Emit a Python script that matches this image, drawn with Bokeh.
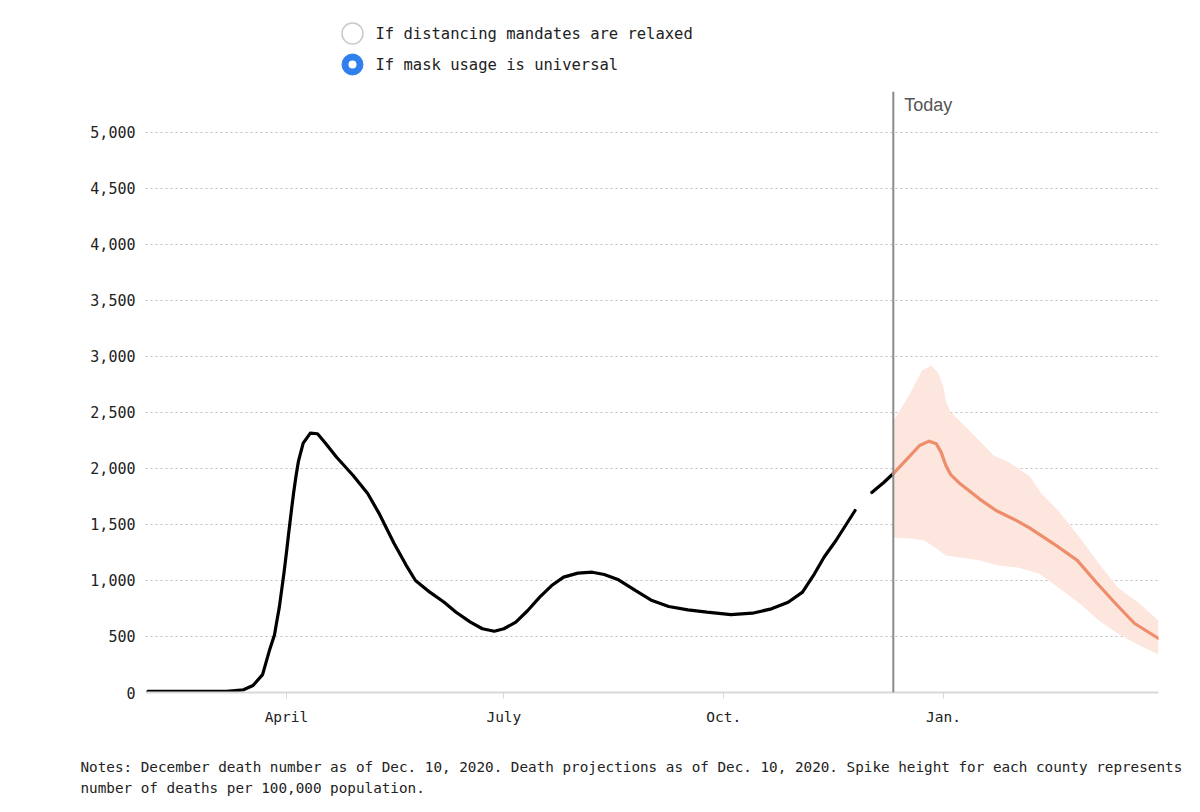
import numpy as np
import pandas as pd
from bokeh.plotting import figure
from bokeh.layouts import column, row
from bokeh.models import (Range1d, FixedTicker, NumeralTickFormatter, Span, Label)
from bokeh.core.properties import value
from bokeh.embed import file_html
from bokeh.resources import INLINE

# ---------------- data ----------------
hist_dates = ["2020-02-03", "2020-02-25", "2020-03-07", "2020-03-14", "2020-03-18",
              "2020-03-22", "2020-03-25", "2020-03-27", "2020-03-28", "2020-03-29",
              "2020-03-30", "2020-03-31", "2020-04-01", "2020-04-02", "2020-04-03",
              "2020-04-04", "2020-04-05", "2020-04-06", "2020-04-08", "2020-04-11",
              "2020-04-14", "2020-04-17", "2020-04-22", "2020-04-29", "2020-05-05",
              "2020-05-10", "2020-05-16", "2020-05-21", "2020-05-25", "2020-05-31",
              "2020-06-06", "2020-06-11", "2020-06-17", "2020-06-22", "2020-06-27",
              "2020-07-01", "2020-07-06", "2020-07-11", "2020-07-16", "2020-07-21",
              "2020-07-26", "2020-08-01", "2020-08-07", "2020-08-12", "2020-08-18",
              "2020-08-25", "2020-09-01", "2020-09-08", "2020-09-16", "2020-09-24",
              "2020-10-04", "2020-10-13", "2020-10-21", "2020-10-28", "2020-11-03",
              "2020-11-08", "2020-11-12", "2020-11-17", "2020-11-25", "2020-11-28",
              "2020-12-02", "2020-12-07", "2020-12-11"]
hist_deaths = [10, 10, 10, 24, 62,
               160, 385, 515, 640, 760,
               916, 1073, 1250, 1435, 1613,
               1783, 1933, 2063, 2226, 2316,
               2310, 2235, 2100, 1935, 1777,
               1590, 1333, 1140, 1000, 896,
               806, 717, 628, 569, 547,
               569, 628, 732, 851, 955,
               1030, 1066, 1074, 1054, 1006,
               911, 821, 768, 738, 717,
               696, 708, 747, 806, 896,
               1060, 1208, 1357, 1625, np.nan,
               1786, 1875, 1955]

proj_dates = ["2020-12-11", "2020-12-17", "2020-12-22", "2020-12-26", "2020-12-29",
              "2020-12-31", "2021-01-02", "2021-01-04", "2021-01-08", "2021-01-16",
              "2021-01-23", "2021-02-01", "2021-02-06", "2021-02-16", "2021-02-26",
              "2021-03-06", "2021-03-14", "2021-03-22", "2021-04-01"]
proj_deaths = [1955, 2090, 2205, 2244, 2220,
               2146, 2027, 1946, 1863, 1729,
               1625, 1530, 1470, 1330, 1180,
               982, 795, 616, 482]

upper_dates = ["2020-12-11", "2020-12-18", "2020-12-23", "2020-12-27", "2020-12-30",
               "2021-01-01", "2021-01-02", "2021-01-04", "2021-01-11", "2021-01-22",
               "2021-01-29", "2021-02-06", "2021-02-11", "2021-02-18", "2021-02-27",
               "2021-03-07", "2021-03-15", "2021-03-24", "2021-04-01"]
upper_deaths = [2420, 2670, 2875, 2920, 2846,
                2726, 2600, 2503, 2357, 2116,
                2050, 1930, 1777, 1625, 1384,
                1152, 937, 795, 643]

lower_dates = ["2020-12-11", "2020-12-18", "2020-12-24", "2020-12-29", "2021-01-02",
               "2021-01-16", "2021-01-24", "2021-02-01", "2021-02-10", "2021-02-18",
               "2021-02-27", "2021-03-07", "2021-03-15", "2021-03-24", "2021-04-01"]
lower_deaths = [1384, 1375, 1357, 1286, 1223,
                1180, 1134, 1116, 1062, 937,
                795, 643, 527, 420, 340]

today_date = "2020-12-11"
tick_dates = ["2020-04-01", "2020-07-01", "2020-10-01", "2021-01-01"]
tick_labels = ["April", "July", "Oct.", "Jan."]
y_ticks = [0, 500, 1000, 1500, 2000, 2500, 3000, 3500, 4000, 4500, 5000]

legend_labels = ["If distancing mandates are relaxed", "If mask usage is universal"]
notes_lines = ["Notes: December death number as of Dec. 10, 2020. Death projections as of Dec. 10, 2020. Spike height for each county represents",
               "number of deaths per 100,000 population."]

# ---------------- styling ----------------
W = 1184
FL, FR = 145, 1158          # frame left / right (page px)
MONO = "DejaVu Sans Mono"
ORANGE = "#ee8d6c"
BAND = "#fde6de"


def ms(d):
    return pd.Timestamp(d).value / 1e6


def blank(h, x0, x1, left, right):
    f = figure(width=W, height=h, output_backend="svg", toolbar_location=None,
               x_range=Range1d(x0, x1), y_range=Range1d(h, 0),
               min_border_left=left, min_border_right=right,
               min_border_top=0, min_border_bottom=0, outline_line_color=None)
    f.axis.visible = False
    f.grid.visible = False
    return f

# ---------------- legend (radio) ----------------
leg = blank(88, FL, FR, FL, W - FR)
leg.scatter(x=[352], y=[33], size=21, fill_color="white", line_color="#c9c9c9", line_width=1.5)
leg.scatter(x=[352], y=[64], size=21, fill_color="#2f80ed", line_color="#2f80ed", line_width=1)
leg.scatter(x=[352], y=[64], size=8, fill_color="white", line_color=None)
leg.text(x=[375, 375], y=[33, 64], text=legend_labels, text_font=value(MONO),
         text_font_size="15.5px", text_color="#222", text_baseline="middle", text_align="left")

# ---------------- main chart ----------------
hd = pd.to_datetime(hist_dates)
pdts = pd.to_datetime(proj_dates)
ud = pd.to_datetime(upper_dates)
ld = pd.to_datetime(lower_dates)

p = figure(width=W, height=652, output_backend="svg", toolbar_location=None,
           x_axis_type="datetime",
           x_range=Range1d(pd.Timestamp("2020-02-02"), pd.Timestamp("2021-04-01")),
           y_range=Range1d(0, 5366),
           min_border_left=FL, min_border_right=W - FR, min_border_top=3, min_border_bottom=48,
           outline_line_color=None)

band_x = list(ud) + list(ld[::-1])
band_y = list(upper_deaths) + list(lower_deaths[::-1])
p.patch(x=band_x, y=band_y, fill_color=BAND, line_color=None)

p.xgrid.visible = False
p.ygrid.ticker = FixedTicker(ticks=y_ticks)
p.ygrid.grid_line_color = "#bdbdbd"
p.ygrid.grid_line_dash = "2 3"
p.ygrid.grid_line_width = 1

p.line(x=hd, y=hist_deaths, line_color="black", line_width=3.2,
       line_join="round", line_cap="round")
p.line(x=pdts, y=proj_deaths, line_color=ORANGE, line_width=3.2,
       line_join="round", line_cap="round")

p.add_layout(Span(location=ms(today_date), dimension="height",
                  line_color="#8a8a8a", line_width=2))
p.add_layout(Label(x=ms(today_date), y=5366, x_offset=11, y_offset=-3, text="Today",
                   text_font="Liberation Sans", text_font_size="18px", text_color="#555",
                   text_baseline="top", text_align="left"))

p.yaxis.ticker = FixedTicker(ticks=y_ticks)
p.yaxis.formatter = NumeralTickFormatter(format="0,0")
p.yaxis.axis_line_color = None
p.yaxis.major_tick_line_color = None
p.yaxis.minor_tick_line_color = None
p.yaxis.major_tick_out = 0
p.yaxis.major_label_standoff = 10
p.yaxis.major_label_text_font = MONO
p.yaxis.major_label_text_font_size = "15px"
p.yaxis.major_label_text_color = "#222"

tick_ms = [ms(d) for d in tick_dates]
p.xaxis.ticker = FixedTicker(ticks=tick_ms)
p.xaxis.major_label_overrides = {t: l for t, l in zip(tick_ms, tick_labels)}
p.xaxis.axis_line_color = "#d9d9d9"
p.xaxis.axis_line_width = 2
p.xaxis.major_tick_line_color = "#d9d9d9"
p.xaxis.major_tick_in = 0
p.xaxis.major_tick_out = 6
p.xaxis.minor_tick_line_color = None
p.xaxis.major_label_standoff = 10
p.xaxis.major_label_text_font = MONO
p.xaxis.major_label_text_font_size = "14.5px"
p.xaxis.major_label_text_color = "#222"

# ---------------- notes (own row, so its frame is not aligned to the chart) ----------------
notes = blank(64, 0, W, 0, 0)
notes.text(x=[80, 80], y=[26, 47], text=notes_lines, text_font=value(MONO),
           text_font_size="14.3px", text_color="#222", text_baseline="middle", text_align="left")

layout = column(column(leg, p, spacing=0), row(notes), spacing=0)
open("out.html", "w").write(file_html(layout, INLINE))
